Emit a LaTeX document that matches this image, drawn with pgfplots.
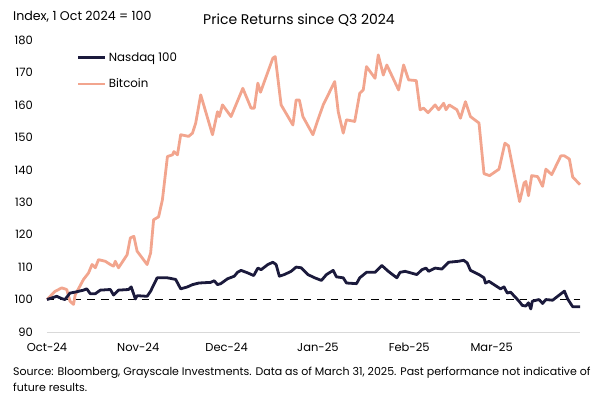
\documentclass[border=0pt]{standalone}
\usepackage{pgfplots}
\pgfplotsset{compat=1.18}
\usepackage{fontspec}
\setmainfont{Poppins}
\definecolor{navy}{HTML}{1B1A3C}
\definecolor{salmon}{HTML}{F2A58E}
\definecolor{axgray}{HTML}{D9D9D9}
\pgfplotstableread{
x y
0 100
2.7 102.5
5.0 103.6
6.7 103.1
7.8 99.5
9.0 98.5
9.6 101.5
12.4 106.2
14.1 108.2
15.3 110.8
16.4 109.8
17.5 112.3
19.8 111.8
21.5 110.8
22.6 110.3
23.2 111.8
24.3 109.8
27.2 113.8
28.3 119.0
29.5 119.5
30.6 114.9
34.0 110.8
35.2 114.4
36.2 124.6
37.9 125.5
39.2 130.8
40.9 144.1
42.6 144.6
43.1 145.6
44.3 144.6
45.4 150.8
48.1 150.3
49.4 151.3
50.5 154.4
52.2 163.1
56.2 150.8
57.9 157.9
58.5 156.4
59.6 160.0
62.5 156.4
66.5 165.1
69.3 159.0
70.4 159.0
71.6 166.7
72.5 163.9
76.7 174.4
77.5 174.9
79.5 160.0
83.5 153.8
84.6 161.5
85.7 161.5
86.9 156.4
90.3 150.8
92.0 155.4
93.8 160.0
97.7 167.2
98.9 157.9
100.6 151.3
101.7 155.4
104.5 154.9
106.2 163.6
107.4 164.6
108.5 171.8
111.4 168.2
112.5 175.4
114.2 169.2
115.4 172.3
119.4 164.6
121.1 172.3
122.8 167.7
125.4 167.5
126.7 158.5
127.9 159.0
129.4 157.6
131.8 160.0
133.0 158.5
134.7 160.5
135.5 158.5
136.6 160.0
139.2 158.5
140.4 155.9
142.1 161.0
143.8 156.4
146.7 154.4
148.4 138.8
150.3 138.2
153.5 140.2
155.5 148.2
156.7 147.4
160.5 130.2
162.0 135.9
162.6 136.4
163.5 132.0
164.6 138.2
166.6 137.9
168.3 134.9
169.4 140.2
171.4 138.5
174.5 144.3
175.7 144.3
177.4 143.3
178.5 137.8
181.0 135.4
}\btc
\pgfplotstableread{
x y
0 100
3.3 101.0
5.0 100.3
6.1 100.0
7.8 102.0
9.6 102.3
12.4 102.9
13.5 103.3
14.7 101.8
16.4 101.8
18.1 102.9
21.5 103.1
22.6 101.4
24.3 102.9
27.7 103.1
28.6 103.9
30.0 100.2
30.6 101.2
34.0 101.0
35.2 102.6
37.4 106.7
40.9 106.7
43.7 106.2
45.4 103.3
47.7 103.9
49.4 104.6
51.6 105.1
55.6 105.3
56.8 105.8
57.9 104.6
59.0 104.9
61.3 106.4
63.6 107.2
64.7 108.4
65.9 109.0
68.2 108.2
70.2 107.4
71.6 109.7
72.7 109.2
75.0 110.8
76.7 111.5
77.8 110.8
78.9 107.2
80.6 107.7
82.9 108.7
84.6 110.0
86.3 109.8
88.6 107.7
90.9 106.7
93.2 105.9
94.9 107.7
97.2 109.0
98.3 107.0
100.6 106.7
101.7 105.1
105.1 104.9
106.2 106.7
108.5 108.4
111.4 108.4
113.7 110.5
115.9 108.7
118.8 106.7
119.9 108.4
121.6 108.7
125.6 107.7
127.3 109.2
128.7 109.7
129.6 108.7
131.8 109.7
134.1 109.4
136.4 111.5
139.8 111.8
141.5 112.1
142.7 111.3
143.8 109.0
146.7 107.7
148.4 106.7
148.9 105.1
150.1 105.6
151.8 104.6
154.0 103.3
155.2 103.9
156.3 102.0
157.4 102.3
160.3 99.5
161.4 98.2
162.6 98.0
163.5 99.0
164.3 97.1
164.8 99.5
167.1 100.0
168.3 98.8
169.4 100.0
171.7 99.8
175.7 102.6
176.8 100.2
178.5 97.8
181.0 97.8
}\ndx
\begin{document}
\begin{tikzpicture}[x=1pt,y=1pt]
\path[use as bounding box] (0,0) rectangle (600,399);
\node[anchor=west,inner sep=0pt,font=\fontsize{12.6}{14}\selectfont] at (13,382) {Index, 1 Oct 2024 = 100};
\node[anchor=center,inner sep=0pt,font=\fontsize{14}{16}\selectfont] at (299,379) {Price Returns since Q3 2024};
\begin{axis}[
  at={(47pt,67pt)}, anchor=south west,
  scale only axis, width=533pt, height=292pt,
  xmin=0, xmax=181, ymin=90, ymax=180,
  clip=false,
  axis line style={draw=none},
  tick style={draw=none},
  major tick length=0pt,
  ytick={90,100,...,180},
  xtick={0,31,61,92,123,151},
  xticklabels={Oct-24,Nov-24,Dec-24,Jan-25,Feb-25,Mar-25},
  /pgf/number format/assume math mode=true,
  tick label style={font=\fontsize{11.5}{13}\selectfont},
  yticklabel style={anchor=east,inner sep=0pt,xshift=-14pt},
  xticklabel style={anchor=north,inner sep=0pt,yshift=-11pt},
  legend cell align=left,
  legend style={draw=none,fill=none,at={(0.056,0.965)},anchor=north west,
    font=\fontsize{11.8}{13}\selectfont,row sep=12pt,inner sep=0pt},
  legend image code/.code={\draw[#1] (0pt,0pt) -- (27pt,0pt);},
]
\addlegendimage{navy,line width=2.8pt}
\addlegendentry{Nasdaq 100}
\addlegendimage{salmon,line width=2.8pt}
\addlegendentry{Bitcoin}
\addplot[axgray,line width=0.8pt,forget plot] coordinates {(0,90) (181,90)};
\addplot[black,line width=1.2pt,dash pattern=on 7.5pt off 6pt,forget plot] coordinates {(0,100) (181,100)};
\addplot[salmon,line width=2.8pt,line join=round,forget plot] table[x=x,y=y] {\btc};
\addplot[navy,line width=2.8pt,line join=round,forget plot] table[x=x,y=y] {\ndx};
\end{axis}
\node[anchor=west,inner sep=0pt,font=\fontsize{11}{13}\selectfont] at (13,26) {Source: Bloomberg, Grayscale Investments. Data as of March 31, 2025. Past performance not indicative of};
\node[anchor=west,inner sep=0pt,font=\fontsize{11}{13}\selectfont] at (13,12) {future results.};
\end{tikzpicture}
\end{document}
